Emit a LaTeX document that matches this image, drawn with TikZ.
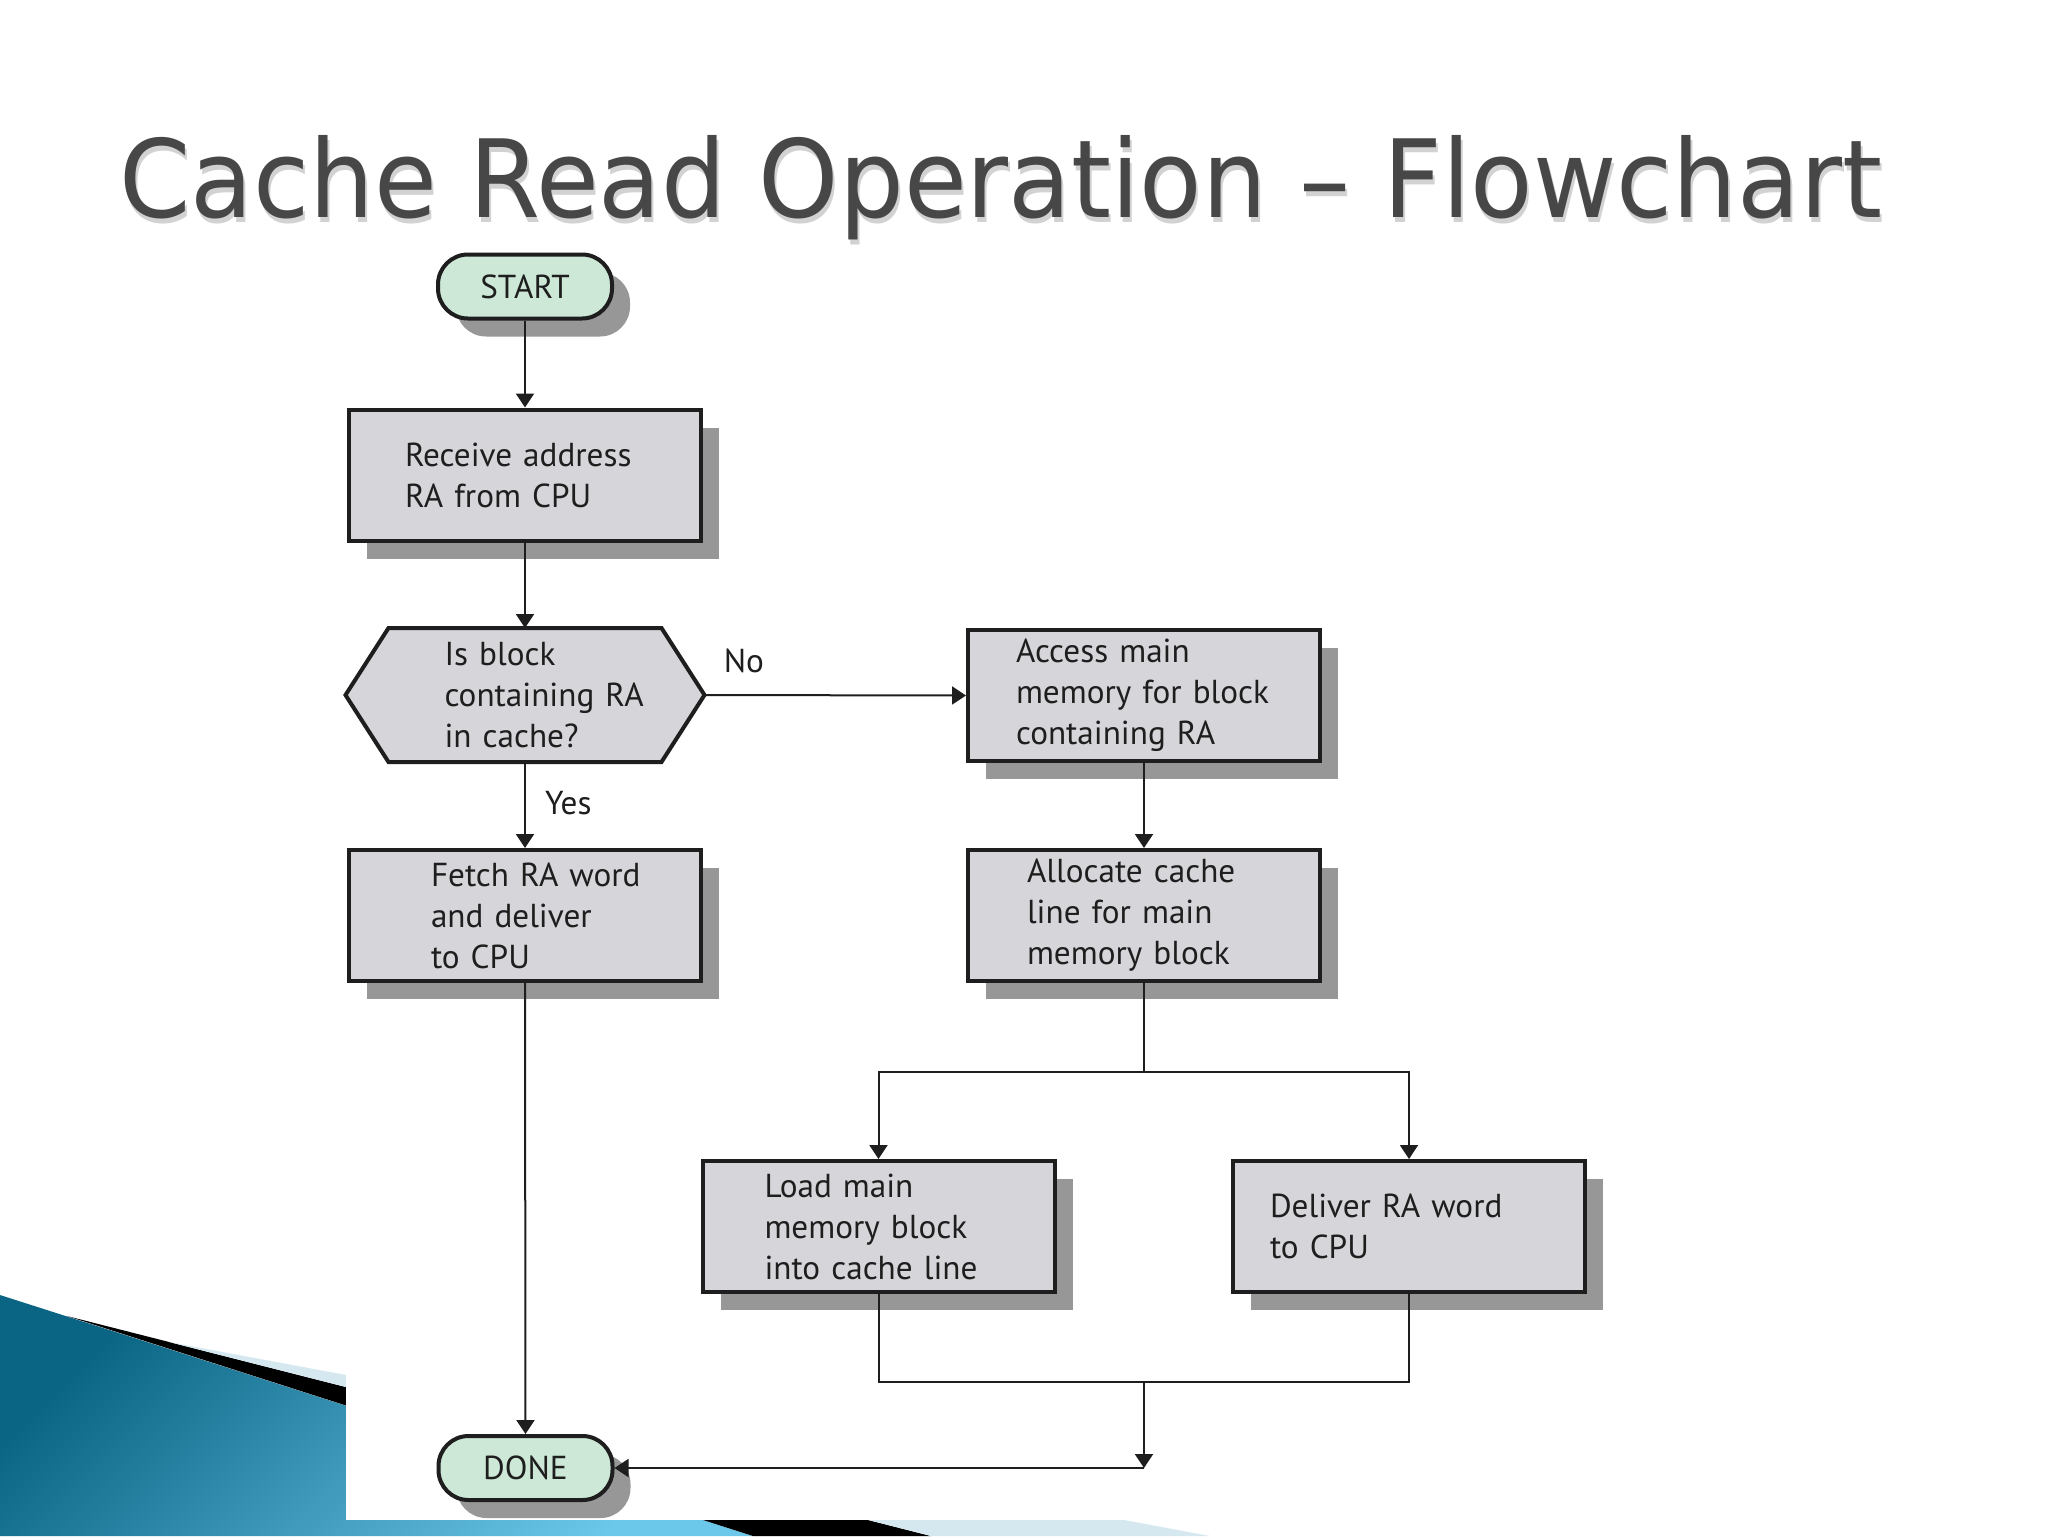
\documentclass[tikz,border=0pt]{standalone}
\usepackage{fontspec}
\setmainfont{PT Sans}
\newfontfamily\titlefont{DejaVu Sans}
\usetikzlibrary{arrows.meta,calc,shadows}
\pgfdeclarelayer{deco}
\pgfdeclarelayer{bg}
\pgfsetlayers{deco,bg,main}
\definecolor{boxfill}{HTML}{D6D6DA}
\definecolor{pillfill}{HTML}{CDE8D7}
\definecolor{shadowgray}{HTML}{979797}
\definecolor{ink}{HTML}{1E1E1E}
\definecolor{titlegray}{HTML}{474747}
\definecolor{titleshadow}{HTML}{D2D2D2}
\definecolor{tealD}{HTML}{0A6484}
\definecolor{tealL}{HTML}{6CC8EA}
\definecolor{stripeL}{HTML}{D5E8F0}
\tikzset{
  boxshadow/.style={drop shadow={shadow xshift=9pt,shadow yshift=-9pt,fill=shadowgray,draw=none,opacity=1}},
  txt/.style={font=\fontsize{16.6}{20.5}\selectfont,text=ink},
  procbox/.style={txt,draw=ink,line width=2pt,fill=boxfill,inner sep=0pt,
    minimum width=176pt,minimum height=65.5pt,text width=176pt,align=left,boxshadow},
  pill/.style={txt,draw=ink,line width=2pt,fill=pillfill,rounded corners=15pt,
    inner sep=0pt,minimum width=87pt,minimum height=32pt,boxshadow},
  dectext/.style={txt,inner sep=0pt,outer sep=1pt,minimum width=177.5pt,
    minimum height=65pt,text width=177.5pt,align=left},
  conn/.style={draw=ink,line width=1pt},
  arr/.style={conn,-{Triangle[length=7pt,width=9pt]}},
  lbl/.style={txt,inner sep=0pt},
  titletxt/.style={anchor=base west,inner sep=0pt,font=\titlefont\fontsize{54}{54}\selectfont}
}
\newcommand{\titletext}{\scalebox{0.946}[1]{Cache Read Operation – Flowchart}}
\begin{document}
\begin{tikzpicture}[x=0.5pt,y=-0.5pt]
\useasboundingbox (0,0) rectangle (2048,1536);

% slide background and decoration
\begin{pgfonlayer}{deco}
  \fill[white] (0,0) rectangle (2048,1536);
  \shade[top color=tealD,bottom color=tealL,shading angle=45] (0,1295) -- (753,1536) -- (0,1536) -- cycle;
  \fill[black] (67,1316) -- (931,1536) -- (753,1536) -- cycle;
  \fill[stripeL] (169,1342) -- (1210,1536) -- (931,1536) -- cycle;
  \fill[white] (346,1250) rectangle (2048,1520);
\end{pgfonlayer}

% title
\node[titletxt,text=titleshadow] (titlesh) at (121,222) {\titletext};
\node[titletxt,text=titlegray] (title) at (119,217) {\titletext};

% nodes
\node[pill] (start) at (525,286.5) {START};
\node[procbox] (recv) at (525,475) {\leftskip=28pt Receive address\\RA from CPU\par};
\node[dectext] (dec) at (525,695) {\leftskip=48.5pt Is block\\containing RA\\in cache?\par};
\node[procbox] (access) at (1144,695.5) {\leftskip=24pt Access main\\memory for block\\containing RA\par};
\node[procbox] (fetch) at (525,915.5) {\leftskip=41pt Fetch RA word\\and deliver\\to CPU\par};
\node[procbox] (alloc) at (1144,915.5) {\leftskip=29.5pt Allocate cache\\line for main\\memory block\par};
\node[procbox] (load) at (878.5,1226.5) {\leftskip=31pt Load main\\memory block\\into cache line\par};
\node[procbox] (deliver) at (1409,1226.5) {\leftskip=18.5pt Deliver RA word\\to CPU\par};
\node[pill] (done) at (525.5,1468) {DONE};

% decision hexagon
\begin{pgfonlayer}{bg}
  \begin{scope}[shift={(17,17)}]
    \fill[shadowgray] (dec.west) -- ($(dec.north west)+(43,0)$) -- ($(dec.north east)+(-43,0)$)
      -- (dec.east) -- ($(dec.south east)+(-43,0)$) -- ($(dec.south west)+(43,0)$) -- cycle;
  \end{scope}
  \draw[draw=ink,line width=2pt,fill=boxfill] (dec.west) -- ($(dec.north west)+(43,0)$) -- ($(dec.north east)+(-43,0)$)
      -- (dec.east) -- ($(dec.south east)+(-43,0)$) -- ($(dec.south west)+(43,0)$) -- cycle;
\end{pgfonlayer}

% connectors
\draw[arr] (start.south) -- (recv.north);
\draw[arr] (recv.south) -- (dec.north);
\draw[arr] (dec.south) -- node[lbl,pos=0.48,anchor=west,xshift=9.5pt] {Yes} (fetch.north);
\draw[arr] (dec.east) -- node[lbl,pos=0.07,anchor=base west,yshift=11.5pt] {No} (access.west);
\draw[arr] (access.south) -- (alloc.north);
\coordinate (j1) at (1144,1072);
\draw[conn] (alloc.south) -- (j1);
\draw[arr] (j1) -| (load.north);
\draw[arr] (j1) -| (deliver.north);
\coordinate (j2) at (1144,1382);
\draw[conn] (load.south) |- (j2);
\draw[conn] (deliver.south) |- (j2);
\coordinate (j3) at (1144,1468);
\draw[arr] (j2) -- (j3);
\draw[arr] (j3) -- (done.east);
\draw[arr] (fetch.south) -- (done.north);
\end{tikzpicture}
\end{document}
